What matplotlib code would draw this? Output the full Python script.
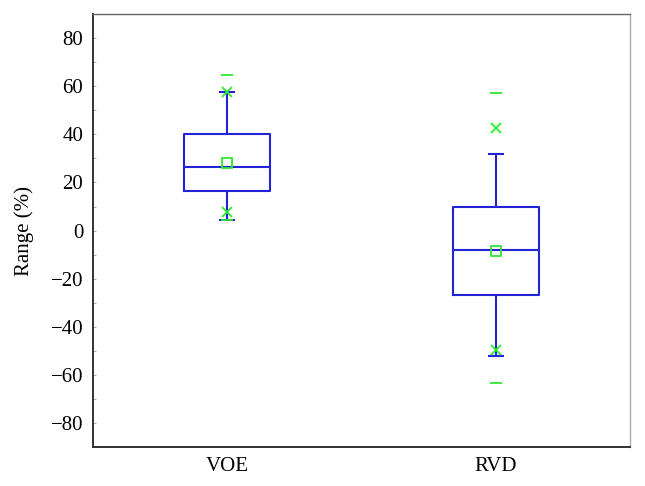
import numpy as np
import matplotlib.pyplot as plt
from matplotlib.ticker import MultipleLocator

plt.rcParams['font.family'] = ['Liberation Serif', 'DejaVu Serif']

categories = ['VOE', 'RVD']
q1 = [16.5, -26.8]
med = [26.5, -8.1]
q3 = [40.0, 10.0]
whislo = [4.6, -52.1]
whishi = [57.6, 31.7]
means = [28.3, -8.5]
p1 = [7.8, -49.6]
p99 = [57.6, 42.7]
mins = [4.6, -63.2]
maxs = [64.6, 57.2]

blue = '#2222d6'
green = '#30e830'

fig = plt.figure(figsize=(6.45, 4.86), dpi=100)
ax = fig.add_axes([0.144, 0.080, 0.833, 0.891])

stats = []
for i in range(len(categories)):
    stats.append(dict(label=categories[i], q1=q1[i], med=med[i], q3=q3[i],
                      whislo=whislo[i], whishi=whishi[i], fliers=[]))

pos = np.arange(1, len(categories) + 1)
ax.bxp(stats, positions=pos, widths=0.32, showfliers=False, capwidths=0.05,
       boxprops=dict(color=blue, lw=1.5),
       medianprops=dict(color=blue, lw=1.5),
       whiskerprops=dict(color=blue, lw=1.5),
       capprops=dict(color=blue, lw=1.5))

ax.plot(pos, means, ls='none', marker='s', ms=6.5, mfc='none', mec=green, mew=1.3, zorder=5)
ax.plot(pos, p1, ls='none', marker='x', ms=7, mec=green, mew=1.3, zorder=5)
ax.plot(pos, p99, ls='none', marker='x', ms=7, mec=green, mew=1.3, zorder=5)
ax.plot(pos, mins, ls='none', marker='_', ms=8, mec=green, mew=1.3, zorder=5)
ax.plot(pos, maxs, ls='none', marker='_', ms=8, mec=green, mew=1.3, zorder=5)

ax.set_xlim(0.5, 2.5)
ax.set_ylim(-90, 90)
ax.set_xticks(pos)
ax.set_xticklabels(categories)
ax.yaxis.set_major_locator(MultipleLocator(20))
ax.yaxis.set_minor_locator(MultipleLocator(10))
ax.set_yticklabels([('\u2212%d' % -v) if v < 0 else '%d' % v for v in ax.get_yticks()])
ax.tick_params(axis='both', which='both', direction='in', length=2, width=0.6,
               color='#999999', labelsize=15, pad=7)
ax.tick_params(axis='x', length=0, pad=7)
ax.set_ylabel('Range (%)', fontsize=15, labelpad=12)

for s in ['left', 'bottom']:
    ax.spines[s].set_color('#333333')
    ax.spines[s].set_linewidth(1.4)
ax.spines['top'].set_color('#666666')
ax.spines['top'].set_linewidth(1.0)
ax.spines['right'].set_color('#aaaaaa')
ax.spines['right'].set_linewidth(1.0)

plt.savefig('out.png', dpi=100)
